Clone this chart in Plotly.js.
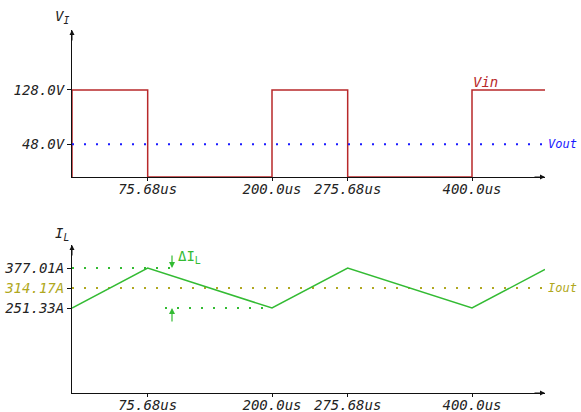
<!DOCTYPE html>
<html>
<head>
<meta charset="utf-8">
<script src="https://cdn.plot.ly/plotly-3.0.1.min.js"></script>
<style>html,body{margin:0;padding:0;background:#fff;}#chart{width:581px;height:412px;}</style>
</head>
<body>
<div id="chart"></div>
<script>
// ---- data ----
var vinTime = [0, 0, 75.68, 200, 275.68, 400, 473];
var vinValues = [0, 128, 0, 128, 0, 128, 128];
var voutTime = [0, 473];
var voutValues = [48, 48];
var ilTime = [0, 75.68, 200, 275.68, 400, 473];
var ilValues = [251.33, 377.01, 251.33, 377.01, 251.33, 372.5];
var ioutTime = [0, 473];
var ioutValues = [314.17, 314.17];
var ilMaxTime = [0, 100];
var ilMaxValues = [377.01, 377.01];
var ilMinTime = [93, 200];
var ilMinValues = [251.33, 251.33];
var xTickVals = [75.68, 200, 275.68, 400];
var xTickText = ['75.68us', '200.0us', '275.68us', '400.0us'];
var vTickVals = [48, 128];
var vTickText = ['48.0V', '128.0V'];
var iTickVals = [251.33, 314.17, 377.01];
var iTickText = ['251.33A', '<span style="color:#b0a820">314.17A</span>', '377.01A'];
var deltaX = 100;

var FONT = 'DejaVu Sans Mono';
var RED = '#b8282a', BLUE = '#1a1aff', GREEN = '#33bb33', OLIVE = '#b0a820';

var traces = [
  {x: vinTime, y: vinValues, mode: 'lines', line: {color: RED, width: 1.5, shape: 'hv'}, xaxis: 'x', yaxis: 'y'},
  {x: voutTime, y: voutValues, mode: 'lines', line: {color: BLUE, width: 2, dash: '2px,10px'}, xaxis: 'x', yaxis: 'y'},
  {x: ilMaxTime, y: ilMaxValues, mode: 'lines', line: {color: GREEN, width: 2, dash: '2px,10px'}, xaxis: 'x2', yaxis: 'y2'},
  {x: ilMinTime, y: ilMinValues, mode: 'lines', line: {color: GREEN, width: 2, dash: '2px,10px'}, xaxis: 'x2', yaxis: 'y2'},
  {x: ioutTime, y: ioutValues, mode: 'lines', line: {color: OLIVE, width: 2, dash: '2px,10px'}, xaxis: 'x2', yaxis: 'y2'},
  {x: ilTime, y: ilValues, mode: 'lines', line: {color: GREEN, width: 1.5}, xaxis: 'x2', yaxis: 'y2'}
];

var tickFont = {family: FONT, size: 14, color: '#222', style: 'italic'};
function xax(anchor) {
  return {range: [0, 473], anchor: anchor, showgrid: false, zeroline: false, showline: true,
    linecolor: '#111', linewidth: 1, ticks: 'outside', ticklen: 3, tickcolor: '#111',
    ticklabelstandoff: -4,
    tickvals: xTickVals, ticktext: xTickText, tickfont: tickFont};
}
var layout = {
  width: 581, height: 412,
  margin: {l: 72, r: 36, t: 30, b: 19},
  paper_bgcolor: '#fff', plot_bgcolor: '#fff',
  showlegend: false,
  xaxis: xax('y'),
  xaxis2: xax('y2'),
  yaxis: {domain: [0.595, 1], range: [0, 216], anchor: 'x', showgrid: false, zeroline: false,
    showline: true, linecolor: '#111', linewidth: 1, ticks: 'outside', ticklen: 4, tickcolor: '#111',
    tickvals: vTickVals, ticktext: vTickText, tickfont: tickFont},
  yaxis2: {domain: [0, 0.4077], range: [-15.7, 449.3], anchor: 'x2', showgrid: false, zeroline: false,
    showline: true, linecolor: '#111', linewidth: 1, ticks: 'outside', ticklen: 4, tickcolor: '#111',
    tickvals: iTickVals, ticktext: iTickText, tickfont: tickFont},
  annotations: [
    // axis arrowheads
    {x: 473, y: 0, xref: 'x', yref: 'y', ax: -12, ay: 0, text: '', showarrow: true, arrowhead: 2, arrowsize: 1, arrowwidth: 1, arrowcolor: '#111'},
    {x: 0, y: 216, xref: 'x', yref: 'y', ax: 0, ay: 12, text: '', showarrow: true, arrowhead: 2, arrowsize: 1, arrowwidth: 1, arrowcolor: '#111'},
    {x: 473, y: -15.7, xref: 'x2', yref: 'y2', ax: -12, ay: 0, text: '', showarrow: true, arrowhead: 2, arrowsize: 1, arrowwidth: 1, arrowcolor: '#111'},
    {x: 0, y: 449.3, xref: 'x2', yref: 'y2', ax: 0, ay: 12, text: '', showarrow: true, arrowhead: 2, arrowsize: 1, arrowwidth: 1, arrowcolor: '#111'},
    // axis titles
    {x: 0, y: 1, xref: 'x domain', yref: 'y domain', xanchor: 'right', yanchor: 'bottom', xshift: -1, yshift: 2,
      text: 'V<sub>I</sub>', showarrow: false, font: {family: FONT, size: 14, color: '#222', style: 'italic'}},
    {x: 0, y: 1, xref: 'x2 domain', yref: 'y2 domain', xanchor: 'right', yanchor: 'bottom', xshift: -1, yshift: 0,
      text: 'I<sub>L</sub>', showarrow: false, font: {family: FONT, size: 14, color: '#222', style: 'italic'}},
    // series labels
    {x: 400, y: 128, xref: 'x', yref: 'y', xanchor: 'left', yanchor: 'bottom', xshift: -1, yshift: -2,
      text: 'Vin', showarrow: false, font: {family: FONT, size: 14, color: RED, style: 'italic'}},
    {x: 473, y: 48, xref: 'x', yref: 'y', xanchor: 'left', yanchor: 'middle', xshift: 1,
      text: 'Vout', showarrow: false, font: {family: FONT, size: 12, color: BLUE, style: 'italic'}},
    {x: 473, y: 314.17, xref: 'x2', yref: 'y2', xanchor: 'left', yanchor: 'middle', xshift: 1,
      text: 'Iout', showarrow: false, font: {family: FONT, size: 12, color: OLIVE, style: 'italic'}},
    // delta I arrows
    {x: deltaX, y: 377.01, xref: 'x2', yref: 'y2', ax: 0, ay: -14, text: '', showarrow: true, arrowhead: 2, arrowsize: 1, arrowwidth: 1.2, arrowcolor: GREEN},
    {x: deltaX, y: 251.33, xref: 'x2', yref: 'y2', ax: 0, ay: 15, text: '', showarrow: true, arrowhead: 2, arrowsize: 1, arrowwidth: 1.2, arrowcolor: GREEN},
    {x: deltaX, y: 377.01, xref: 'x2', yref: 'y2', xanchor: 'left', yanchor: 'bottom', xshift: 4, yshift: 0,
      text: 'ΔI<sub>L</sub>', showarrow: false, font: {family: FONT, size: 14, color: GREEN}}
  ]
};

Plotly.newPlot('chart', traces, layout, {displayModeBar: false, staticPlot: true});
</script>
</body>
</html>
